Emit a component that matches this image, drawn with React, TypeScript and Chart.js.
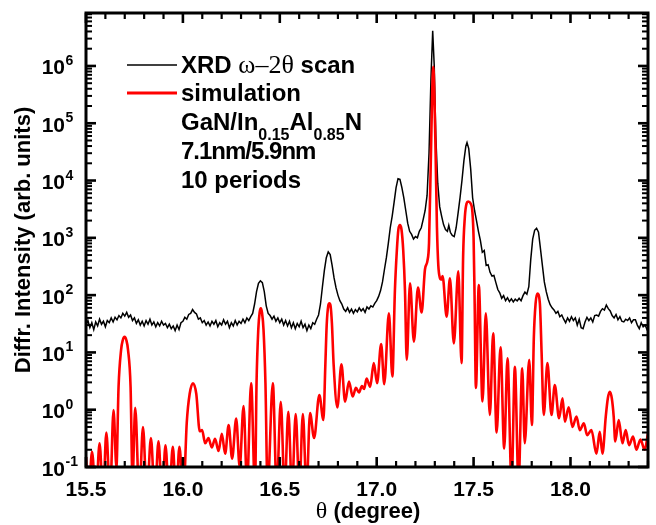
import React, { useEffect, useRef } from 'react';
import { Chart, registerables } from 'chart.js';

Chart.register(...registerables);

// ---------------- data ----------------
const xrdTheta = [
  15.50, 15.51, 15.52, 15.53, 15.54, 15.55, 15.56, 15.57, 15.58, 15.59,
  15.60, 15.61, 15.62, 15.63, 15.64, 15.65, 15.66, 15.67, 15.68, 15.69,
  15.70, 15.71, 15.72, 15.73, 15.74, 15.75, 15.76, 15.77, 15.78, 15.79,
  15.80, 15.81, 15.82, 15.83, 15.84, 15.85, 15.86, 15.87, 15.88, 15.89,
  15.90, 15.91, 15.92, 15.93, 15.94, 15.95, 15.96, 15.97, 15.98, 15.99,
  16.00, 16.01, 16.02, 16.03, 16.04, 16.05, 16.06, 16.07, 16.08, 16.09,
  16.10, 16.11, 16.12, 16.13, 16.14, 16.15, 16.16, 16.17, 16.18, 16.19,
  16.20, 16.21, 16.22, 16.23, 16.24, 16.25, 16.26, 16.27, 16.28, 16.29,
  16.30, 16.31, 16.32, 16.33, 16.34, 16.35, 16.36, 16.37, 16.38, 16.39,
  16.40, 16.41, 16.42, 16.43, 16.44, 16.45, 16.46, 16.47, 16.48, 16.49,
  16.50, 16.51, 16.52, 16.53, 16.54, 16.55, 16.56, 16.57, 16.58, 16.59,
  16.60, 16.61, 16.62, 16.63, 16.64, 16.65, 16.66, 16.67, 16.68, 16.69,
  16.70, 16.71, 16.72, 16.73, 16.74, 16.75, 16.76, 16.77, 16.78, 16.79,
  16.80, 16.81, 16.82, 16.83, 16.84, 16.85, 16.86, 16.87, 16.88, 16.89,
  16.90, 16.91, 16.92, 16.93, 16.94, 16.95, 16.96, 16.97, 16.98, 16.99,
  17.00, 17.01, 17.02, 17.03, 17.04, 17.05, 17.06, 17.07, 17.08, 17.09,
  17.10, 17.11, 17.12, 17.13, 17.14, 17.15, 17.16, 17.17, 17.18, 17.19,
  17.20, 17.21, 17.22, 17.23, 17.24, 17.25, 17.26, 17.27, 17.28, 17.289,
  17.297, 17.305, 17.315, 17.325, 17.335, 17.345, 17.355, 17.365, 17.372, 17.38,
  17.39, 17.40, 17.41, 17.42, 17.43, 17.44, 17.45, 17.46, 17.466, 17.475,
  17.485, 17.495, 17.505, 17.515, 17.525, 17.535, 17.545, 17.555, 17.565, 17.575,
  17.585, 17.595, 17.605, 17.615, 17.625, 17.635, 17.645, 17.655, 17.665, 17.675,
  17.685, 17.695, 17.705, 17.715, 17.725, 17.735, 17.745, 17.755, 17.765, 17.775,
  17.785, 17.795, 17.805, 17.815, 17.825, 17.835, 17.845, 17.855, 17.865, 17.875,
  17.885, 17.895, 17.905, 17.915, 17.925, 17.935, 17.945, 17.955, 17.965, 17.975,
  17.985, 17.995, 18.005, 18.015, 18.025, 18.035, 18.045, 18.055, 18.065, 18.075,
  18.085, 18.095, 18.105, 18.115, 18.125, 18.135, 18.145, 18.155, 18.165, 18.175,
  18.185, 18.195, 18.205, 18.215, 18.225, 18.235, 18.245, 18.255, 18.265, 18.275,
  18.285, 18.295, 18.305, 18.315, 18.325, 18.335, 18.345, 18.355, 18.365, 18.375,
  18.385, 18.395, 18.40,
];

const xrdCounts = [
  30, 36, 27, 33, 25, 34, 29, 38, 31, 35,
  28, 36, 33, 40, 34, 41, 37, 44, 40, 48,
  43, 50, 41, 45, 36, 40, 32, 37, 30, 35,
  29, 36, 31, 38, 30, 34, 28, 33, 29, 35,
  30, 32, 27, 31, 26, 29, 24, 30, 25, 33,
  35, 41, 38, 46, 48, 56, 50, 47, 38, 40,
  33, 36, 30, 34, 29, 35, 31, 36, 28, 33,
  30, 37, 31, 35, 27, 33, 29, 36, 30, 35,
  32, 38, 33, 40, 36, 42, 48, 70, 115, 160,
  178, 165, 115, 65, 48, 44, 38, 43, 35, 40,
  33, 38, 30, 36, 29, 35, 27, 33, 26, 32,
  28, 35, 27, 31, 24, 30, 26, 33, 31, 38,
  45, 70, 140, 270, 450, 570, 510, 330, 200, 135,
  100, 80, 70, 57, 52, 60, 50, 57, 48, 56,
  51, 60, 53, 58, 50, 62, 57, 65, 62, 72,
  80, 95, 120, 170, 280, 450, 800, 1500, 2400, 4200,
  7500, 10800, 10500, 7500, 5000, 3000, 1800, 1300, 1150, 950,
  1050, 1000, 1300, 1500, 2100, 3000, 5500, 30000, 600000, 4100000,
  1000000, 60000, 9000, 3500, 2400, 1700, 1400, 1300, 1650, 1250,
  1100, 1050, 1500, 2700, 5000, 10000, 22000, 40000, 46000, 36000,
  16000, 5000, 3000, 2000, 1300, 900, 560, 600, 330, 340,
  250, 215, 220, 165, 125, 110, 88, 98, 80, 90,
  77, 86, 76, 85, 79, 88, 80, 98, 113, 104,
  140, 420, 950, 1350, 1470, 1250, 650, 330, 170, 115,
  85, 68, 60, 55, 48, 52, 42, 45, 38, 33,
  40, 35, 42, 36, 40, 30, 38, 27, 26, 34,
  41, 36, 40, 34, 44, 45, 43, 52, 58, 55,
  67, 58, 53, 44, 40, 46, 37, 42, 35, 34,
  38, 36, 40, 33, 37, 37, 30, 26, 33, 28,
  30, 25, 26,
];

const simTheta = [
  15.500, 15.513, 15.531, 15.551, 15.570, 15.588, 15.605, 15.624, 15.642, 15.657,
  15.668, 15.681, 15.690, 15.699, 15.708, 15.717, 15.730, 15.740, 15.754, 15.775,
  15.794, 15.814, 15.835, 15.855, 15.874, 15.893, 15.910, 15.929, 15.948, 15.965,
  15.982, 16.002, 16.020, 16.035, 16.052, 16.069, 16.087, 16.099, 16.115, 16.132,
  16.149, 16.166, 16.184, 16.201, 16.218, 16.236, 16.254, 16.275, 16.293, 16.313,
  16.331, 16.352, 16.372, 16.380, 16.389, 16.396, 16.402, 16.408, 16.416, 16.426,
  16.437, 16.464, 16.484, 16.505, 16.525, 16.544, 16.563, 16.582, 16.601, 16.619,
  16.638, 16.656, 16.677, 16.704, 16.725, 16.735, 16.742, 16.750, 16.756, 16.762,
  16.769, 16.778, 16.797, 16.818, 16.837, 16.857, 16.876, 16.893, 16.909, 16.924,
  16.935, 16.948, 16.966, 16.985, 17.002, 17.023, 17.039, 17.063, 17.081, 17.094,
  17.104, 17.112, 17.120, 17.128, 17.137, 17.146, 17.155, 17.172, 17.192, 17.213,
  17.232, 17.249, 17.262, 17.270, 17.280, 17.287, 17.292, 17.297, 17.304, 17.311,
  17.318, 17.326, 17.333, 17.340, 17.361, 17.378, 17.398, 17.421, 17.438, 17.446,
  17.455, 17.464, 17.472, 17.484, 17.494, 17.500, 17.505, 17.512, 17.527, 17.546,
  17.563, 17.584, 17.601, 17.619, 17.639, 17.658, 17.675, 17.696, 17.713, 17.732,
  17.751, 17.764, 17.787, 17.801, 17.811, 17.820, 17.829, 17.842, 17.851, 17.862,
  17.881, 17.902, 17.919, 17.941, 17.959, 17.971, 17.991, 18.010, 18.031, 18.048,
  18.069, 18.086, 18.108, 18.134, 18.151, 18.165, 18.182, 18.193, 18.203, 18.213,
  18.223, 18.231, 18.249, 18.268, 18.285, 18.302, 18.323, 18.340, 18.361, 18.383,
  18.400,
];

const simCounts = [
  0.15, 0.03, 0.185, 0.03, 0.26, 0.03, 0.40, 0.03, 0.99, 0.10,
  2.5, 11, 16.5, 18.8, 16.5, 11, 2.5, 0.06, 1.08, 0.03,
  0.50, 0.03, 0.32, 0.03, 0.28, 0.03, 0.24, 0.03, 0.226, 0.03,
  0.226, 0.03, 0.6, 1.9, 2.9, 1.9, 0.42, 0.44, 0.26, 0.32,
  0.22, 0.31, 0.19, 0.38, 0.17, 0.54, 0.14, 0.70, 0.10, 1.16,
  0.05, 2.9, 0.04, 2.9, 25, 50, 59, 50, 25, 2.9,
  0.04, 2.9, 0.04, 1.38, 0.04, 0.92, 0.04, 0.84, 0.04, 0.84,
  0.04, 0.87, 0.32, 1.81, 0.66, 6, 30, 65, 72, 65,
  32, 6, 1.1, 6.2, 1.38, 3.1, 1.7, 2.4, 2.0, 2.6,
  2.3, 3.5, 2.5, 6.5, 2.9, 14, 2.8, 48, 3.8, 120,
  600, 1400, 1670, 1400, 600, 120, 7.4, 161, 15.4, 135,
  50, 280, 400, 800, 30000, 400000, 970000, 400000, 30000, 1500,
  330, 200, 185, 215, 42, 196, 14.4, 260, 6.5, 470,
  2330, 4000, 4300, 4000, 2800, 1000, 100, 2.4, 150, 1.4,
  48, 0.81, 21.5, 0.40, 12.3, 0.21, 7.9, 0.05, 5.6, 0.05,
  5.3, 0.26, 7.4, 0.54, 18.8, 72, 107, 72, 9.8, 0.81,
  6.5, 0.81, 2.7, 0.71, 1.58, 0.62, 1.1, 0.50, 0.76, 0.44,
  0.58, 0.36, 0.44, 0.17, 0.41, 0.17, 0.76, 1.6, 2.06, 1.6,
  0.76, 0.28, 0.66, 0.26, 0.44, 0.24, 0.34, 0.20, 0.30, 0.20,
  0.39,
];

const xTickValues = [15.5, 16.0, 16.5, 17.0, 17.5, 18.0];
const xTickLabels = ['15.5', '16.0', '16.5', '17.0', '17.5', '18.0'];
const yTickExponents = [-1, 0, 1, 2, 3, 4, 5, 6];
const xMin = 15.5;
const xMax = 18.4;
const yMin = 0.1;
const yMax = 8.4e6;

const SANS = '"Liberation Sans", Arial, Helvetica, sans-serif';
const SERIF = '"Liberation Serif", "DejaVu Serif", "Times New Roman", serif';

function seg(ctx: CanvasRenderingContext2D, x1: number, y1: number, x2: number, y2: number) {
  ctx.beginPath();
  ctx.moveTo(x1, y1);
  ctx.lineTo(x2, y2);
  ctx.stroke();
}

const decorPlugin = {
  id: 'decor',
  afterDraw(chart: any) {
    const { ctx, chartArea: a, scales } = chart;
    const xs = scales.x;
    const ys = scales.y;
    ctx.save();
    ctx.strokeStyle = '#000';
    ctx.fillStyle = '#000';
    ctx.lineCap = 'butt';

    // x ticks (inward, top and bottom)
    for (let t = Math.round(xMin * 10); t <= Math.round(xMax * 10); t++) {
      const v = t / 10;
      const px = xs.getPixelForValue(v);
      const major = t % 5 === 0;
      const len = major ? 10 : 6;
      ctx.lineWidth = major ? 2.6 : 2.2;
      seg(ctx, px, a.bottom, px, a.bottom - len);
      seg(ctx, px, a.top, px, a.top + len);
    }
    // y ticks (inward, left and right)
    for (const e of yTickExponents) {
      for (let m = 1; m <= 9; m++) {
        const v = m * Math.pow(10, e);
        if (v > yMax) break;
        const py = ys.getPixelForValue(v);
        const major = m === 1;
        const len = major ? 10 : 6;
        ctx.lineWidth = major ? 2.6 : 2;
        seg(ctx, a.left, py, a.left + len, py);
        seg(ctx, a.right, py, a.right - len, py);
      }
    }
    // frame
    ctx.lineWidth = 3;
    ctx.strokeRect(a.left, a.top, a.right - a.left, a.bottom - a.top);

    // x tick labels
    ctx.font = `bold 21px ${SANS}`;
    ctx.textAlign = 'center';
    ctx.textBaseline = 'alphabetic';
    xTickValues.forEach((v, i) => {
      ctx.fillText(xTickLabels[i], xs.getPixelForValue(v), 496);
    });

    // y tick labels 10^n
    yTickExponents.forEach((e) => {
      const py = ys.getPixelForValue(Math.pow(10, e));
      ctx.font = `bold 21px ${SANS}`;
      ctx.textAlign = 'right';
      ctx.fillText('10', 65, py + 8.5);
      ctx.font = `bold 14px ${SANS}`;
      ctx.textAlign = 'left';
      ctx.fillText(e < 0 ? '-' + Math.abs(e) : String(e), 65.5, py - 1);
    });

    // x axis title
    ctx.textAlign = 'left';
    const thetaFont = `24px ${SERIF}`;
    const restFont = `bold 22px ${SANS}`;
    ctx.font = thetaFont;
    const w1 = ctx.measureText('θ').width;
    ctx.font = restFont;
    const w2 = ctx.measureText(' (degree)').width;
    const tx = 368 - (w1 + w2) / 2;
    ctx.font = thetaFont;
    ctx.fillText('θ', tx, 518);
    ctx.font = restFont;
    ctx.fillText(' (degree)', tx + w1, 518);

    // y axis title
    ctx.save();
    ctx.translate(30, 240);
    ctx.rotate(-Math.PI / 2);
    ctx.textAlign = 'center';
    ctx.font = `bold 22px ${SANS}`;
    ctx.fillText('Diffr. Intensity (arb. units)', 0, 0);
    ctx.restore();

    // legend
    ctx.textAlign = 'left';
    ctx.lineWidth = 1.5;
    ctx.strokeStyle = '#000';
    seg(ctx, 127, 65, 177, 65);
    ctx.lineWidth = 3;
    ctx.strokeStyle = '#ff0000';
    seg(ctx, 127, 93, 177, 93);

    const big = `bold 24px ${SANS}`;
    const sub = `bold 16px ${SANS}`;
    const drawRun = (parts: [string, string, number][], x0: number, spacing = 0) => {
      let x = x0;
      for (const [txt, font, base] of parts) {
        ctx.font = font;
        if (spacing) {
          for (const ch of txt) {
            ctx.fillText(ch, x, base);
            x += ctx.measureText(ch).width + spacing;
          }
        } else {
          ctx.fillText(txt, x, base);
          x += ctx.measureText(txt).width;
        }
      }
    };
    drawRun([
      ['XRD ', big, 73],
      ['ω–2θ', `26px ${SERIF}`, 73],
      [' scan', big, 73],
    ], 181);
    drawRun([['simulation', big, 101]], 181);
    drawRun([
      ['GaN/In', big, 130],
      ['0.15', sub, 140],
      ['Al', big, 130],
      ['0.85', sub, 140],
      ['N', big, 130],
    ], 181);
    drawRun([['7.1nm/5.9nm', big, 159]], 181, -1);
    drawRun([['10 periods', big, 188]], 181);

    ctx.restore();
  },
};

export default function App() {
  const canvasRef = useRef<HTMLCanvasElement | null>(null);

  useEffect(() => {
    const canvas = canvasRef.current;
    if (!canvas) return;
    const simData = simTheta.map((t, i) => ({ x: t, y: simCounts[i] }));
    const xrdData = xrdTheta.map((t, i) => ({ x: t, y: xrdCounts[i] }));
    const chart = new Chart(canvas, {
      type: 'line',
      data: {
        datasets: [
          {
            label: 'simulation',
            data: simData,
            borderColor: '#ff0000',
            borderWidth: 2.6,
            pointRadius: 0,
            cubicInterpolationMode: 'monotone',
            fill: false,
            clip: 0,
            order: 0,
          } as any,
          {
            label: 'XRD ω–2θ scan',
            data: xrdData,
            borderColor: '#000000',
            borderWidth: 1.5,
            pointRadius: 0,
            tension: 0,
            fill: false,
            clip: 0,
            order: 1,
          } as any,
        ],
      },
      options: {
        responsive: false,
        animation: false,
        devicePixelRatio: 1,
        events: [],
        layout: { padding: { left: 86, top: 13, right: 8, bottom: 58 } },
        plugins: {
          legend: { display: false },
          tooltip: { enabled: false },
        },
        scales: {
          x: { type: 'linear', min: xMin, max: xMax, display: false },
          y: { type: 'logarithmic', min: yMin, max: yMax, display: false },
        },
      },
      plugins: [decorPlugin],
    });
    return () => chart.destroy();
  }, []);

  return (
    <div style={{ position: 'absolute', left: 0, top: 0, width: 656, height: 525, background: '#fff' }}>
      <canvas ref={canvasRef} width={656} height={525} style={{ display: 'block' }} />
    </div>
  );
}
